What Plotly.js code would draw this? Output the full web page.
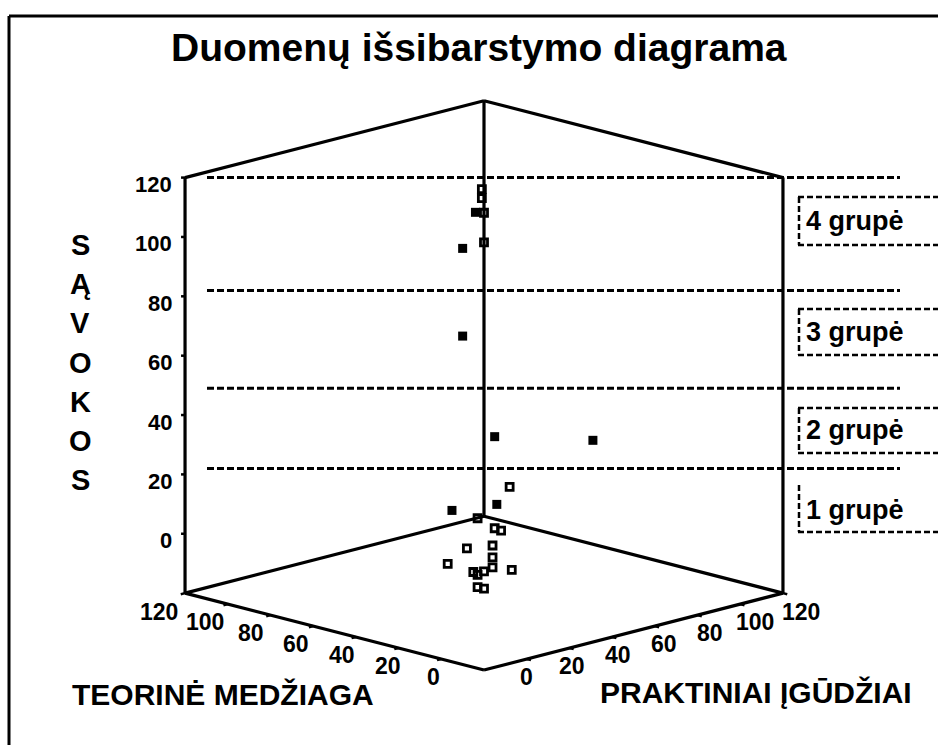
<!DOCTYPE html>
<html><head><meta charset="utf-8">
<script src="https://cdn.plot.ly/plotly-3.0.1.min.js"></script>
<style>html,body{margin:0;padding:0;background:#fff}#chart{width:938px;height:745px}</style>
</head><body><div id="chart"></div>
<script>
// ---------- data ----------
const titleText = 'Duomenų išsibarstymo diagrama';
const teorTitle = 'TEORINĖ MEDŽIAGA';
const praktTitle = 'PRAKTINIAI ĮGŪDŽIAI';
const savTitle = 'SĄVOKOS';

// open-square respondents (teorinė medžiaga, praktiniai įgūdžiai, sąvokos)
const openTeor  = [40, 40, 45, 45, 30, 17, 12, 11, 19, 13, 13, 23, 8, 15, 13, 12, 14, 3, 0];
const openPrakt = [39, 39, 45, 45, 42, 14, 17, 19, 11, 17, 17, 6, 21, 10, 13, 16, 11, 0, 0];
const openSav   = [120, 117, 110, 100, 21, 18, 15, 14, 8, 9, 5, 3, 1, 1, 1, 2, 0, 0, 0];
// filled-square respondents
const filledTeor  = [42, 50, 35, 17, 15, 17, 22];
const filledPrakt = [38, 40, 25, 22, 66, 23, 7];
const filledSav   = [112, 98, 74, 44, 35, 21, 21];

const axisMin = -20, axisMax = 120;
const tickVals = [0, 20, 40, 60, 80, 100, 120];
const tickText = ['0', '20', '40', '60', '80', '100', '120'];
const groupBounds = [120, 82, 49, 22];
const groupNames = ['4 grupė', '3 grupė', '2 grupė', '1 grupė'];

// ---------- projection (orthographic, azimuth 45°, elevation ~15°) ----------
const W = 938, H = 745;
const S = 3.02;                       // px per data unit
const el = 14.9 * Math.PI / 180, az = Math.PI / 4, kz = 1.017;
function proj(X, Y, Z) {
  return [(Y - X) * Math.cos(az),
          Z * kz * Math.cos(el) + (X + Y) * Math.sin(az) * Math.sin(el)];
}
const front = proj(axisMin, axisMin, axisMin);
const anchorPx = [484, 670];
const xRange = [front[0] - anchorPx[0] / S, front[0] + (W - anchorPx[0]) / S];
const yRange = [front[1] - (H - anchorPx[1]) / S, front[1] + anchorPx[1] / S];
const px2paperX = p => p / W;
const py2paperY = p => 1 - p / H;

// ---------- box edges ----------
const a = axisMin, b = axisMax;
const edges = [
  [[b, a, a], [b, a, b]],
  [[b, b, a], [b, b, b]],
  [[a, b, a], [a, b, b]],
  [[b, a, b], [b, b, b]],
  [[b, b, b], [a, b, b]],
  [[b, a, a], [a, a, a]],
  [[a, a, a], [a, b, a]],
  [[b, a, a], [b, b, a]],
  [[b, b, a], [a, b, a]]
];
const ex = [], ey = [];
edges.forEach(([p, q]) => {
  const P = proj(...p), Q = proj(...q);
  ex.push(P[0], Q[0], null); ey.push(P[1], Q[1], null);
});

// tick marks
const tx = [], ty = [];
tickVals.forEach(t => {
  const P = proj(b, a, t);
  tx.push(P[0], P[0] - 4 / S, null); ty.push(P[1], P[1], null);
  const L0 = proj(t, a, a), L1 = proj(t, a - 2, a);
  tx.push(L0[0], L1[0], null); ty.push(L0[1], L1[1], null);
  const R0 = proj(a, t, a), R1 = proj(a - 2, t, a);
  tx.push(R0[0], R1[0], null); ty.push(R0[1], R1[1], null);
});

function projArr(X, Y, Z) {
  const xs = [], ys = [];
  X.forEach((_, i) => { const p = proj(X[i], Y[i], Z[i]); xs.push(p[0]); ys.push(p[1]); });
  return [xs, ys];
}
const [ox, oy] = projArr(openTeor, openPrakt, openSav);
const [fx, fy] = projArr(filledTeor, filledPrakt, filledSav);

const traces = [
  {type: 'scatter', mode: 'lines', x: ex, y: ey, line: {color: '#000', width: 3.2}, hoverinfo: 'skip'},
  {type: 'scatter', mode: 'lines', x: tx, y: ty, line: {color: '#000', width: 2.5}, hoverinfo: 'skip'},
  {type: 'scatter', mode: 'markers', x: ox, y: oy,
   marker: {symbol: 'square-open', size: 7, color: '#000', line: {color: '#000', width: 2.8}}},
  {type: 'scatter', mode: 'markers', x: fx, y: fy,
   marker: {symbol: 'square', size: 9, color: '#000', line: {width: 0}}}
];

const FONT = 'Liberation Sans, Arial, Helvetica, sans-serif';
const annotations = [];
const shapes = [];

// title
annotations.push({text: titleText, xref: 'paper', yref: 'paper', x: px2paperX(479), y: py2paperY(48),
  xanchor: 'center', yanchor: 'middle', showarrow: false,
  font: {family: FONT, size: 39, color: '#000', weight: 'bold'}});

// z tick labels
tickVals.forEach((t, i) => {
  const P = proj(b, a, t);
  annotations.push({text: tickText[i], x: P[0], y: P[1], xref: 'x', yref: 'y',
    xanchor: 'right', yanchor: 'middle', xshift: -11, yshift: -7, showarrow: false,
    font: {family: FONT, size: 22, color: '#000', weight: 'bold'}});
});
// floor tick labels
tickVals.forEach((t, i) => {
  const L = proj(t * 1.07, a, a);
  annotations.push({text: tickText[i], x: L[0], y: L[1], xref: 'x', yref: 'y',
    xanchor: 'center', yanchor: 'middle', xshift: -8, yshift: -(18 + 5 * t / 120), showarrow: false,
    font: {family: FONT, size: 23, color: '#000', weight: 'bold'}});
  const R = proj(a, t * 1.07, a);
  annotations.push({text: tickText[i], x: R[0], y: R[1], xref: 'x', yref: 'y',
    xanchor: 'center', yanchor: 'middle', xshift: 0, yshift: -(18 + 5 * t / 120), showarrow: false,
    font: {family: FONT, size: 23, color: '#000', weight: 'bold'}});
});

// axis titles
annotations.push({text: teorTitle, xref: 'paper', yref: 'paper', x: px2paperX(223), y: py2paperY(694),
  xanchor: 'center', yanchor: 'middle', showarrow: false,
  font: {family: FONT, size: 30, color: '#000', weight: 'bold'}});
annotations.push({text: praktTitle, xref: 'paper', yref: 'paper', x: px2paperX(756), y: py2paperY(692),
  xanchor: 'center', yanchor: 'middle', showarrow: false,
  font: {family: FONT, size: 30, color: '#000', weight: 'bold'}});
savTitle.split('').forEach((ch, i) => {
  annotations.push({text: ch, xref: 'paper', yref: 'paper', x: px2paperX(80), y: py2paperY(245 + i * 39.2),
    xanchor: 'center', yanchor: 'middle', showarrow: false,
    font: {family: FONT, size: 29, color: '#000', weight: 'bold'}});
});

// group boundary dashed lines
groupBounds.forEach(g => {
  const P = proj(b, a, g);
  shapes.push({type: 'line', xref: 'paper', yref: 'y', x0: px2paperX(207), x1: px2paperX(900), y0: P[1], y1: P[1],
    line: {color: '#000', width: 3, dash: '7px,3px'}});
});

// group label boxes
const boxTop = [197, 309, 408, 485], boxBot = [245, 355, 453, 532], labelY = [221, 332, 430, 510];
groupNames.forEach((g, i) => {
  const dl = {color: '#000', width: 2.5, dash: '6px,3px'};
  if (i < 3) shapes.push({type: 'line', xref: 'paper', yref: 'paper', x0: px2paperX(798), x1: 1,
    y0: py2paperY(boxTop[i]), y1: py2paperY(boxTop[i]), line: dl});
  shapes.push({type: 'line', xref: 'paper', yref: 'paper', x0: px2paperX(798), x1: 1,
    y0: py2paperY(boxBot[i]), y1: py2paperY(boxBot[i]), line: dl});
  shapes.push({type: 'line', xref: 'paper', yref: 'paper', x0: px2paperX(799), x1: px2paperX(799),
    y0: py2paperY(boxTop[i]), y1: py2paperY(boxBot[i]), line: dl});
  annotations.push({text: g, xref: 'paper', yref: 'paper', x: px2paperX(804), y: py2paperY(labelY[i]),
    xanchor: 'left', yanchor: 'middle', showarrow: false,
    font: {family: FONT, size: 27, color: '#000', weight: 'bold'}});
});

// outer frame (top and left visible)
shapes.push({type: 'line', xref: 'paper', yref: 'paper', x0: px2paperX(9), x1: 1, y0: py2paperY(16), y1: py2paperY(16),
  line: {color: '#000', width: 3}});
shapes.push({type: 'line', xref: 'paper', yref: 'paper', x0: px2paperX(9), x1: px2paperX(9), y0: py2paperY(16), y1: 0,
  line: {color: '#000', width: 3}});

const layout = {
  width: W, height: H,
  margin: {l: 0, r: 0, t: 0, b: 0},
  paper_bgcolor: '#fff', plot_bgcolor: '#fff',
  showlegend: false,
  xaxis: {range: xRange, visible: false, fixedrange: true},
  yaxis: {range: yRange, visible: false, fixedrange: true},
  annotations, shapes
};
Plotly.newPlot('chart', traces, layout, {staticPlot: true, displayModeBar: false});
</script></body></html>
